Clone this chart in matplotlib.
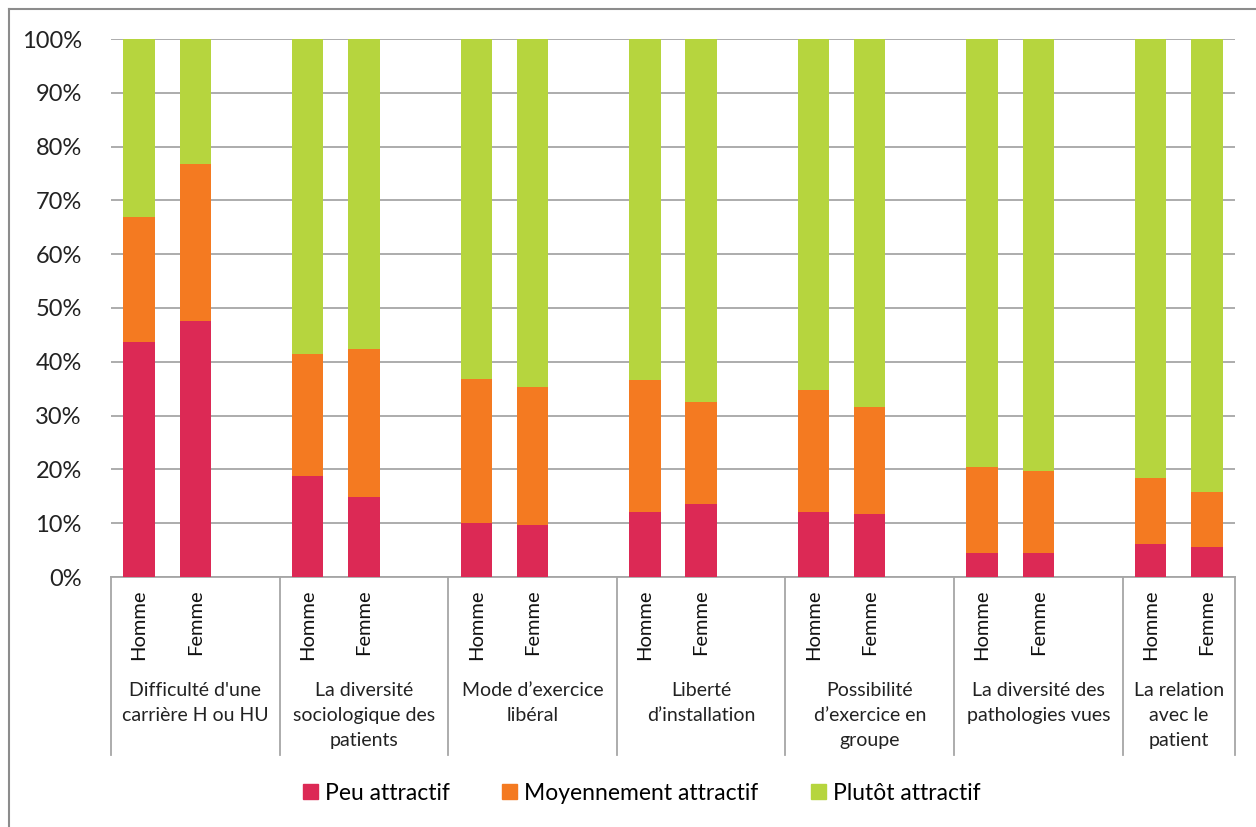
import matplotlib.pyplot as plt
import matplotlib.transforms as mtransforms
from matplotlib.patches import Patch
from matplotlib.lines import Line2D
import numpy as np

plt.rcParams['font.family'] = ['Lato', 'DejaVu Sans']

groups = ["Difficulté d'une\ncarrière H ou HU",
          "La diversité\nsociologique des\npatients",
          "Mode d’exercice\nlibéral",
          "Liberté\nd’installation",
          "Possibilité\nd’exercice en\ngroupe",
          "La diversité des\npathologies vues",
          "La relation\navec le\npatient"]
sexes = ["Homme", "Femme"]
series = ["Peu attractif", "Moyennement attractif", "Plutôt attractif"]
colors = ["#DC2955", "#F47A21", "#B6D53E"]

# percentages, order: Homme, Femme for each group
peu = [43.7, 47.6, 18.8, 14.8, 10.0, 9.7, 12.1, 13.6, 12.1, 11.7, 4.5, 4.5, 6.1, 5.6]
cumul_moyen = [66.9, 76.8, 41.4, 42.4, 36.8, 35.3, 36.6, 32.5, 34.8, 31.6, 20.4, 19.7, 18.4, 15.8]
moyen = [c - p for c, p in zip(cumul_moyen, peu)]
plutot = [100 - c for c in cumul_moyen]

# slots: 2 bars + 1 empty slot per group, last group without empty slot
x = []
for g in range(len(groups)):
    x += [3 * g, 3 * g + 1]
x = np.array(x, dtype=float)

fig = plt.figure(figsize=(12.56, 8.27), dpi=100)
ax = fig.add_axes([111 / 1256, 1 - 577 / 827, (1235 - 111) / 1256, (577 - 39) / 827])

w = 0.56
ax.bar(x, peu, w, color=colors[0], zorder=3)
ax.bar(x, moyen, w, bottom=peu, color=colors[1], zorder=3)
ax.bar(x, plutot, w, bottom=cumul_moyen, color=colors[2], zorder=3)

ax.set_xlim(-0.5, 3 * (len(groups) - 1) + 1.5)
ax.set_ylim(0, 100)
ax.set_yticks(np.arange(0, 101, 10))
ax.set_yticklabels([f"{v}%" for v in range(0, 101, 10)], fontsize=17, color='#222222')
ax.tick_params(axis='y', length=0, pad=21)
ax.set_xticks([])
ax.grid(axis='y', color='#A6A6A6', linewidth=1.3, zorder=0)
for s in ['top', 'right', 'left']:
    ax.spines[s].set_visible(False)
ax.spines['bottom'].set_color('#A6A6A6')
ax.spines['bottom'].set_linewidth(1.3)

trans = mtransforms.blended_transform_factory(ax.transData, ax.transAxes)
axh = 577 - 39
for i, xi in enumerate(x):
    ax.text(xi, -12 / axh, sexes[i % 2], rotation=90, ha='center', va='top',
            fontsize=14.5, transform=trans, color='#111111')

bounds = [-0.5] + [3 * g + 2.5 for g in range(len(groups) - 1)] + [3 * (len(groups) - 1) + 1.5]
for b in bounds:
    ax.add_line(Line2D([b, b], [0, -178 / axh], transform=trans, color='#A6A6A6',
                       linewidth=1.3, clip_on=False))
for g, name in enumerate(groups):
    c = (bounds[g] + bounds[g + 1]) / 2
    ax.text(c, -105 / axh, name, ha='center', va='top', fontsize=14, linespacing=1.58,
            transform=trans, color='#222222')

handles = [Patch(color=c) for c in colors]
fig.legend(handles, series, loc='center', bbox_to_anchor=(0.511, 1 - 793 / 827), ncol=3,
           frameon=False, fontsize=16.5, handlelength=0.65, handleheight=0.65,
           handletextpad=0.3, columnspacing=2.3)

# outer frame
fig.add_artist(Line2D([9 / 1256, 9 / 1256], [0, 1 - 9 / 827], color='#8C8C8C', linewidth=1.5))
fig.add_artist(Line2D([9 / 1256, 1], [1 - 9 / 827, 1 - 9 / 827], color='#8C8C8C', linewidth=1.5))

fig.savefig('out.png', dpi=100)
